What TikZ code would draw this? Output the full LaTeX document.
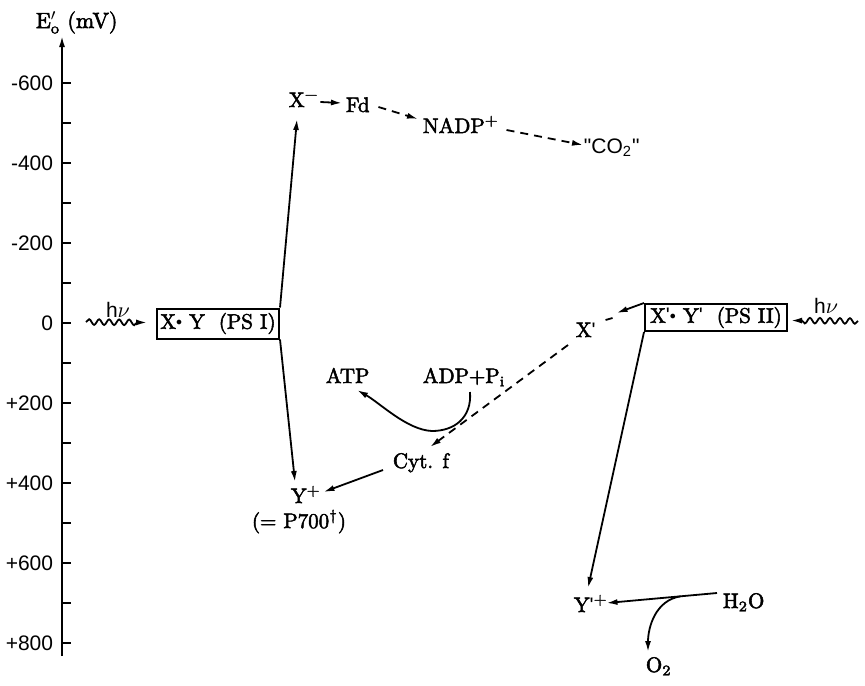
\documentclass[tikz,border=0pt]{standalone}
\usepackage{fontspec}
\setmainfont{Latin Modern Roman}[FakeBold=2.5]
\newfontfamily\axfont{Liberation Sans}
\usetikzlibrary{arrows.meta,calc,decorations.pathmorphing}
\newcommand{\pdot}{\raisebox{.35ex}{\scalebox{.55}{$\bullet$}}}
\newcommand{\pr}{{\axfont\char"27}}
\newcommand{\up}[1]{\textsuperscript{#1}}
\newcommand{\dn}[1]{\textsubscript{#1}}
\begin{document}
\begin{tikzpicture}[x=0.5pt,y=-0.5pt,
  font=\fontsize{10.5}{12}\selectfont,
  line width=0.9pt,
  arr/.style={-{Latex[length=5.5pt,width=3pt]}},
  dsh/.style={dash pattern=on 4pt off 3pt},
  lbl/.style={inner sep=0pt, anchor=base west},
  psbox/.style={draw, line width=1pt, inner sep=0pt, minimum height=15pt, align=center},
  wave/.style={decorate, decoration={snake, amplitude=1.4pt, segment length=5pt, post length=3pt}},
  axnum/.style={inner sep=0pt, anchor=east, font=\axfont\fontsize{10.5}{12}\selectfont},
]
\useasboundingbox (0,0) rectangle (865,685);

% axis
\coordinate (axbot) at (62,656);
\coordinate (axtop) at (62,36);
\draw[arr] (axbot) -- (axtop);
\node[lbl] (axlab) at (35,28) {\fontsize{11}{12}\selectfont $\mathrm{E}'_{\mathrm{o}}$\ (mV)};
\foreach \v/\t [count=\i] in {-600/{-600},-400/{-400},-200/{-200},0/0,200/{+200},400/{+400},600/{+600},800/{+800}}{
  \draw (62,{323+0.4*\v}) -- ++(9,0);
  \node[axnum] (tick\i) at (54,{323+0.4*\v}) {\t};
}
\foreach \v in {-500,-300,-100,100,300,500,700}{
  \draw (62,{323+0.4*\v}) -- ++(9,0);
}

% nodes
\node[psbox, minimum width=61pt] (psI) at (218,323.5) {X\pdot\ Y\ \ (PS I)};
\node[psbox, minimum width=71pt, minimum height=13.5pt] (psII) at (716,317.5) {X\pr\pdot\ Y\pr\ \ (PS II)};
\node[inner sep=0pt, anchor=base] (hvL) at (118,317) {{\axfont h}$\nu$};
\node[inner sep=0pt, anchor=base] (hvR) at (826,313) {{\axfont h}$\nu$};
\node[lbl] (Xm) at (288,107) {X\up{\char"2212}};
\node[lbl] (Fd) at (345,112) {Fd};
\node[lbl] (NADP) at (422,133) {NADP\up{+}};
\node[lbl] (CO2) at (583,153) {{\axfont"CO\dn{2}"}};
\node[lbl] (ATP) at (325,383) {ATP};
\node[lbl] (ADP) at (422,383) {ADP+P\dn{i}};
\node[lbl] (Xp) at (575,337) {X\pr};
\node[lbl] (Cytf) at (392,468) {Cyt. f};
\node[lbl] (Yp) at (290,503) {Y\up{+}};
\node[inner sep=0pt, anchor=base] (P700) at (299,528) {(= P700\up{\textdagger})};
\node[lbl] (Ypp) at (573,612) {Y\pr\up{+}};
\node[lbl] (H2O) at (722,608) {H\dn{2}O};
\node[lbl] (O2) at (645,672) {O\dn{2}};

% light
\coordinate (hvLs) at (86,322);
\draw[arr, wave] (hvLs) -- ($(psI.west)+(-9,-1)$);
\coordinate (hvRs) at (858,321);
\draw[arr, wave] (hvRs) -- ($(psII.east)+(3,3)$);

% PS I
\draw[arr] (psI.north east) -- ($(Xm.base west)+(9,12)$);
\draw[arr] (psI.south east) -- ($(Yp.base west)+(5,-21)$);
\draw[arr] ($(Xm.base east)+(1,-5)$) -- ($(Fd.base west)+(-3,-9)$);
\draw[arr,dsh] ($(Fd.base east)+(8,-5)$) -- ($(NADP.base west)+(-4,-14)$);
\draw[arr,dsh] ($(NADP.base east)+(7,-3)$) -- ($(CO2.base west)+(0,-8)$);
\draw[arr] ($(Cytf.base west)+(-9,2)$) -- ($(Yp.base east)+(2,-11)$);

% PS II
\coordinate (xtip) at ($(Xp.base east)+(20,-24)$);
\draw[arr] (psII.north west) -- (xtip);
\draw ($(Xp.base east)+(9,-17)$) -- ($(Xp.base east)+(16,-19)$);
\draw[arr,dsh] ($(Xp.base west)+(-7,8)$) -- ($(Cytf.base west)+(38,-21)$);
\draw[arr] (psII.south west) -- ($(Ypp.base west)+(15,-24)$);

% ATP
\coordinate (adps) at ($(ADP.base west)+(48,9)$);
\coordinate (cb) at (432,431);
\draw[arr] (adps) .. controls ($(adps)+(2,26)$) and ($(cb)+(22,0)$) .. (cb)
  .. controls ($(cb)+(-25,-1)$) and ($(ATP.base west)+(55,20)$) .. ($(ATP.base west)+(32,7)$);

% water
\coordinate (h2os) at ($(H2O.base west)+(-5,-15)$);
\coordinate (yppe) at ($(Ypp.base east)+(-2,-9)$);
\draw[arr] (h2os) -- (yppe);
\coordinate (obr) at ($(h2os)!0.33!(yppe)$);
\draw[arr] (obr) .. controls +(-25,4) and +(0,-25) .. ($(O2.base west)+(3,-20)$);
\end{tikzpicture}
\end{document}
